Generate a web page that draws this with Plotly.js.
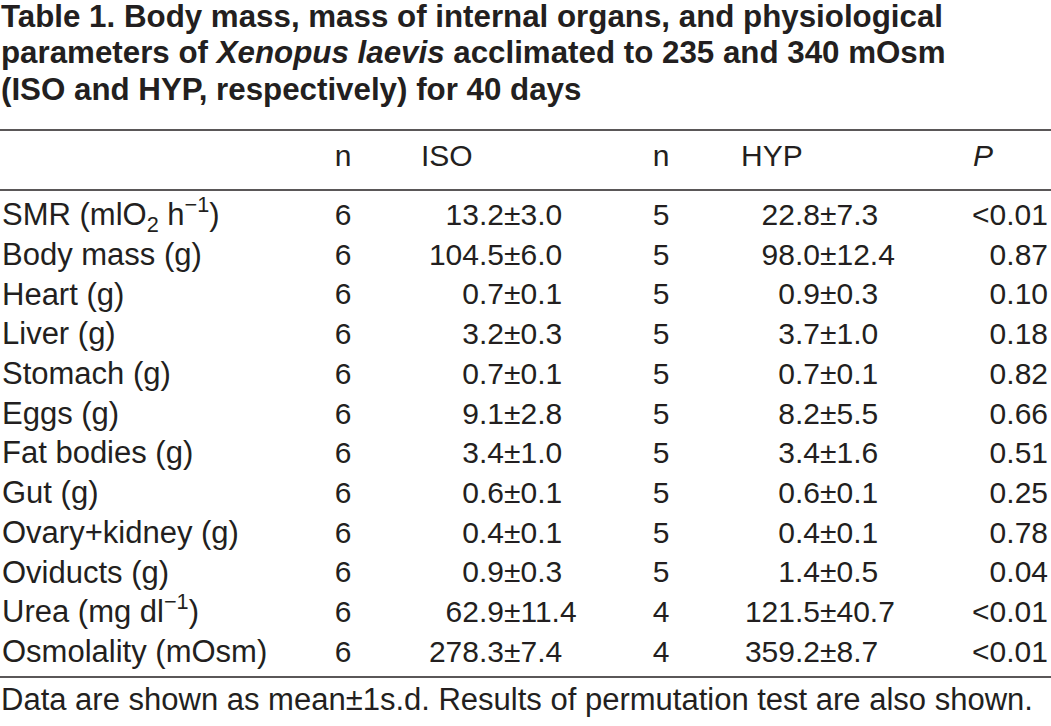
<!DOCTYPE html>
<html><head><meta charset="utf-8">
<script src="https://cdn.plot.ly/plotly-3.0.1.min.js"></script>
<style>html,body{margin:0;padding:0;background:#fff}#chart{width:1051px;height:726px}</style>
</head><body><div id="chart"></div>
<script>
// ---- data ----
var titleLines = [
  '<b>Table 1. Body mass, mass of internal organs, and physiological</b>',
  '<b>parameters of <i>Xenopus laevis</i> acclimated to 235 and 340 mOsm</b>',
  '<b>(ISO and HYP, respectively) for 40 days</b>'
];
var headers = ['n', 'ISO', 'n', 'HYP', '<i>P</i>'];
var labels = ['SMR (mlO<sub>2</sub> h<sup>\u22121</sup>)', 'Body mass (g)', 'Heart (g)', 'Liver (g)',
  'Stomach (g)', 'Eggs (g)', 'Fat bodies (g)', 'Gut (g)', 'Ovary+kidney (g)', 'Oviducts (g)',
  'Urea (mg dl<sup>\u22121</sup>)', 'Osmolality (mOsm)'];
var nISO = [6, 6, 6, 6, 6, 6, 6, 6, 6, 6, 6, 6];
var isoMean = ['13.2', '104.5', '0.7', '3.2', '0.7', '9.1', '3.4', '0.6', '0.4', '0.9', '62.9', '278.3'];
var isoSD = ['3.0', '6.0', '0.1', '0.3', '0.1', '2.8', '1.0', '0.1', '0.1', '0.3', '11.4', '7.4'];
var nHYP = [5, 5, 5, 5, 5, 5, 5, 5, 5, 5, 4, 4];
var hypMean = ['22.8', '98.0', '0.9', '3.7', '0.7', '8.2', '3.4', '0.6', '0.4', '1.4', '121.5', '359.2'];
var hypSD = ['7.3', '12.4', '0.3', '1.0', '0.1', '5.5', '1.6', '0.1', '0.1', '0.5', '40.7', '8.7'];
var pVal = ['<0.01', '0.87', '0.10', '0.18', '0.82', '0.66', '0.51', '0.25', '0.78', '0.04', '<0.01', '<0.01'];
var footnote = 'Data are shown as mean\u00b11s.d. Results of permutation test are also shown.';

// ---- layout constants (pixel-like axis units) ----
var W = 1051, H = 726;
var FONT = 'Liberation Sans, Arial, Helvetica, sans-serif';
var INK = '#231f20';
var BODY = 30, LABEL = 31, TITLE = 31.3;
var COL = {label: 2, n1: 343, isoHead: 421, isoPM: 504, n2: 661, hypHead: 741, hypPM: 820, pRight: 1048, pHead: 973};
var ROW0 = 217.5, ROWH = 39.7, HEAD_Y = 158;
var TITLE_Y = [16, 52.5, 89];
var RULES = [130, 190, 677];
var FOOT_Y = 699;

var rowY = labels.map(function (_, i) { return ROW0 + i * ROWH; });
function at(x) { return labels.map(function () { return x; }); }

function textTrace(x, y, text, pos, size) {
  return {
    type: 'scatter', mode: 'text', x: x, y: y, text: text, textposition: pos,
    textfont: {family: FONT, size: size || BODY, color: INK}, hoverinfo: 'skip', cliponaxis: false
  };
}

var traces = [
  textTrace(at(COL.label), rowY, labels, 'middle right', LABEL),
  textTrace(at(COL.n1), rowY, nISO.map(String), 'middle center'),
  textTrace(at(COL.isoPM), rowY, isoMean, 'middle left'),
  textTrace(at(COL.isoPM), rowY, isoSD.map(function (s) { return '\u00b1' + s; }), 'middle right'),
  textTrace(at(COL.n2), rowY, nHYP.map(String), 'middle center'),
  textTrace(at(COL.hypPM), rowY, hypMean, 'middle left'),
  textTrace(at(COL.hypPM), rowY, hypSD.map(function (s) { return '\u00b1' + s; }), 'middle right'),
  textTrace(at(COL.pRight), rowY, pVal, 'middle left'),
  textTrace([COL.n1, COL.isoHead, COL.n2, COL.hypHead, COL.pHead],
            headers.map(function () { return HEAD_Y; }), headers,
            ['middle center', 'middle right', 'middle center', 'middle right', 'middle right'])
];

var annotations = titleLines.map(function (t, i) {
  return {xref: 'paper', yref: 'y', x: 0, y: TITLE_Y[i], xanchor: 'left', yanchor: 'middle',
          text: t, showarrow: false, borderpad: 0,
          font: {family: FONT, size: TITLE, color: INK}};
});
annotations.push({xref: 'paper', yref: 'y', x: 0, y: FOOT_Y, xanchor: 'left', yanchor: 'middle',
  text: footnote, showarrow: false, borderpad: 0, font: {family: FONT, size: LABEL, color: INK}});

var shapes = RULES.map(function (y) {
  return {type: 'line', xref: 'paper', yref: 'y', x0: 0, x1: 1, y0: y, y1: y,
          line: {color: INK, width: 1.6}};
});

var layout = {
  width: W, height: H, margin: {l: 0, r: 0, t: 0, b: 0, pad: 0},
  paper_bgcolor: '#fff', plot_bgcolor: '#fff', showlegend: false,
  xaxis: {range: [0, W], visible: false, fixedrange: true},
  yaxis: {range: [H, 0], visible: false, fixedrange: true},
  annotations: annotations, shapes: shapes,
  font: {family: FONT, color: INK}
};

Plotly.newPlot('chart', traces, layout, {displayModeBar: false, staticPlot: true});
</script></body></html>
